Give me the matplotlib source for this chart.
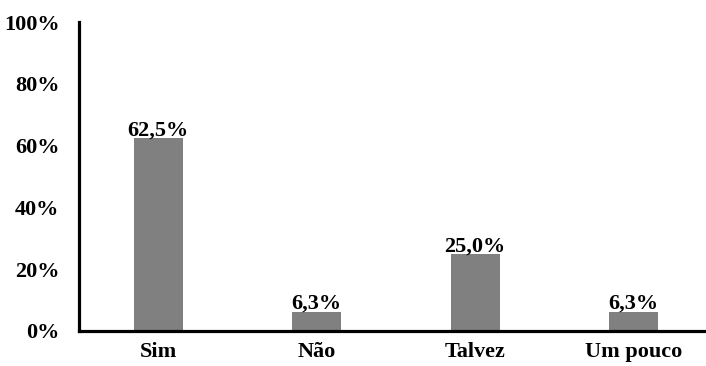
import matplotlib.pyplot as plt
from matplotlib.ticker import FuncFormatter

categories = ['Sim', 'Não', 'Talvez', 'Um pouco']
values = [62.5, 6.3, 25.0, 6.3]
labels = ['62,5%', '6,3%', '25,0%', '6,3%']
yticks = [0, 20, 40, 60, 80, 100]

plt.rcParams['font.family'] = ['Liberation Serif', 'DejaVu Serif']
plt.rcParams['font.weight'] = 'bold'

fig = plt.figure(figsize=(7.06, 3.66), dpi=100)
ax = fig.add_axes([79 / 706, 35 / 366, 627 / 706, 309 / 366])

x = range(len(categories))
bars = ax.bar(x, values, width=0.31, color='#808080')
for b, lab in zip(bars, labels):
    ax.text(b.get_x() + b.get_width() / 2, b.get_height() - 0.8, lab,
            ha='center', va='bottom', fontsize=16, fontweight='bold')

ax.set_xlim(-0.5, 3.456)
ax.set_ylim(0, 100)
ax.set_yticks(yticks)
ax.yaxis.set_major_formatter(FuncFormatter(lambda v, p: f'{int(v)}%'))
ax.set_xticks(list(x))
ax.set_xticklabels(categories)
ax.tick_params(axis='both', length=0, labelsize=16)
ax.tick_params(axis='y', pad=14)
ax.tick_params(axis='x', pad=8)
for lab in ax.get_xticklabels() + ax.get_yticklabels():
    lab.set_fontweight('bold')

ax.spines['top'].set_visible(False)
ax.spines['right'].set_visible(False)
ax.spines['left'].set_linewidth(2.3)
ax.spines['bottom'].set_linewidth(2.3)

fig.savefig('out.png', dpi=100)
